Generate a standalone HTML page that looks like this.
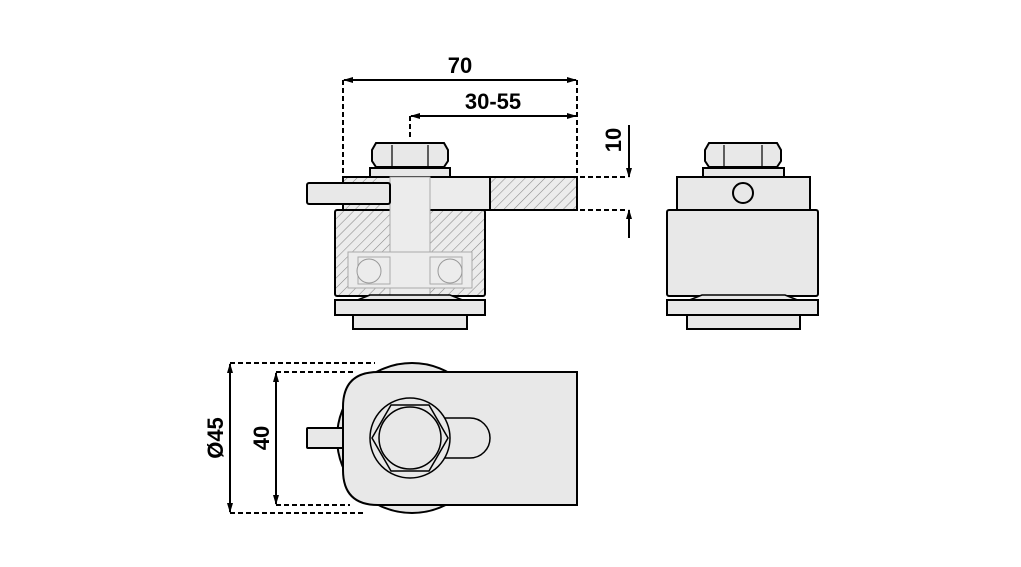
<!DOCTYPE html>
<html><head><meta charset="utf-8"><style>
html,body{margin:0;padding:0;background:#fff;}
svg{display:block;}
text{font-family:"Liberation Sans",sans-serif;font-weight:bold;font-size:22px;fill:#000;}
</style></head><body>
<svg width="1021" height="567" viewBox="0 0 1021 567" xmlns="http://www.w3.org/2000/svg">
<defs>
<pattern id="h" patternUnits="userSpaceOnUse" width="7" height="7" patternTransform="rotate(45)">
<rect width="7" height="7" fill="#ececec"/><line x1="0" y1="0" x2="0" y2="7" stroke="#888" stroke-width="1.1"/>
</pattern>
<marker id="a" markerWidth="10" markerHeight="8" refX="9" refY="4" orient="auto" markerUnits="userSpaceOnUse"><path d="M0,1 L10,4 L0,7 z" fill="#000"/></marker>
<marker id="b" markerWidth="10" markerHeight="8" refX="1" refY="4" orient="auto" markerUnits="userSpaceOnUse"><path d="M10,1 L0,4 L10,7 z" fill="#000"/></marker>
</defs>
<g stroke="#000" stroke-width="2" fill="none" stroke-dasharray="5,3">
<line x1="343" y1="80" x2="343" y2="177"/><line x1="577" y1="80" x2="577" y2="177"/>
<line x1="410" y1="116" x2="410" y2="140"/>
<line x1="580" y1="177" x2="627" y2="177"/><line x1="580" y1="210" x2="627" y2="210"/>
<line x1="230" y1="363" x2="375" y2="363"/><line x1="230" y1="513" x2="365" y2="513"/>
<line x1="276" y1="372" x2="355" y2="372"/><line x1="276" y1="505" x2="350" y2="505"/>
</g>
<g stroke="#000" stroke-width="2" fill="none">
<line x1="344" y1="80" x2="576" y2="80" marker-start="url(#b)" marker-end="url(#a)"/>
<line x1="411" y1="116" x2="576" y2="116" marker-start="url(#b)" marker-end="url(#a)"/>
<line x1="629" y1="125" x2="629" y2="177" marker-end="url(#a)"/>
<line x1="629" y1="238" x2="629" y2="210" marker-end="url(#a)"/>
<line x1="230" y1="364" x2="230" y2="512" marker-start="url(#b)" marker-end="url(#a)"/>
<line x1="276" y1="373" x2="276" y2="504" marker-start="url(#b)" marker-end="url(#a)"/>
</g>
<text x="460" y="73" text-anchor="middle">70</text>
<text x="493" y="109" text-anchor="middle">30-55</text>
<text transform="translate(621,140) rotate(-90)" text-anchor="middle">10</text>
<text transform="translate(223,438) rotate(-90)" text-anchor="middle">Ø45</text>
<text transform="translate(269,438) rotate(-90)" text-anchor="middle">40</text>

<!-- front view -->
<g stroke="#000" stroke-width="2">
<path d="M376,143 H444 L448,150 V161 L444,167 H376 L372,161 V150 Z" fill="#e8e8e8"/>
<line x1="392" y1="145" x2="392" y2="166" stroke-width="1.2"/><line x1="428" y1="145" x2="428" y2="166" stroke-width="1.2"/>
<rect x="370" y="168" width="80" height="9" fill="#e8e8e8"/>
<rect x="343" y="177" width="234" height="33" fill="url(#h)"/>
<rect x="380" y="178" width="110" height="31" fill="#ececec" stroke="none"/>
<line x1="490" y1="177" x2="490" y2="210"/>
<rect x="335" y="210" width="150" height="86" rx="2" fill="url(#h)"/>
<rect x="390" y="177" width="40" height="119" fill="#ececec" stroke="#aaa" stroke-width="1"/>
<rect x="348" y="252" width="124" height="36" fill="#ececec" stroke="#aaa" stroke-width="1"/>
<rect x="358" y="257" width="32" height="27" fill="none" stroke="#aaa" stroke-width="1"/>
<rect x="430" y="257" width="32" height="27" fill="none" stroke="#aaa" stroke-width="1"/>
<circle cx="369" cy="271" r="12" fill="#ececec" stroke="#999" stroke-width="1"/>
<circle cx="450" cy="271" r="12" fill="#ececec" stroke="#999" stroke-width="1"/>
<rect x="307" y="183" width="83" height="21" rx="2" fill="#e8e8e8"/>
<path d="M355,301 L370,295 H450 L465,301 Z" fill="#e8e8e8" stroke-width="1.5"/>
<rect x="335" y="300" width="150" height="15" fill="#e8e8e8"/>
<rect x="353" y="315" width="114" height="14" fill="#e8e8e8"/>
</g>

<!-- side view -->
<g stroke="#000" stroke-width="2" fill="#e8e8e8">
<path d="M709,143 H777 L781,150 V161 L777,167 H709 L705,161 V150 Z"/>
<line x1="724" y1="145" x2="724" y2="166" stroke-width="1.2"/><line x1="762" y1="145" x2="762" y2="166" stroke-width="1.2"/>
<rect x="703" y="168" width="81" height="9"/>
<rect x="677" y="177" width="133" height="33"/>
<circle cx="743" cy="193" r="10"/>
<rect x="667" y="210" width="151" height="86" rx="2"/>
<path d="M687,301 L702,295 H785 L800,301 Z" stroke-width="1.5"/>
<rect x="667" y="300" width="151" height="15"/>
<rect x="687" y="315" width="113" height="14"/>
</g>

<!-- top view -->
<g stroke="#000" stroke-width="2" fill="#e8e8e8">
<circle cx="412" cy="438" r="75"/>
<rect x="307" y="428" width="40" height="20" rx="1"/>
<path d="M378,372 H577 V505 H378 Q343,505 343,470 V407 Q343,372 378,372 Z"/>
<path d="M445,418 H470 A20,20 0 0 1 470,458 H445 Z" stroke-width="1.5"/>
<circle cx="410" cy="438" r="40" stroke-width="1.5"/>
<path d="M391,405 H429 L448,438 L429,471 H391 L372,438 Z" stroke-width="1.5"/>
<circle cx="410" cy="438" r="31" stroke-width="1.5"/>
</g>
</svg>
</body></html>
